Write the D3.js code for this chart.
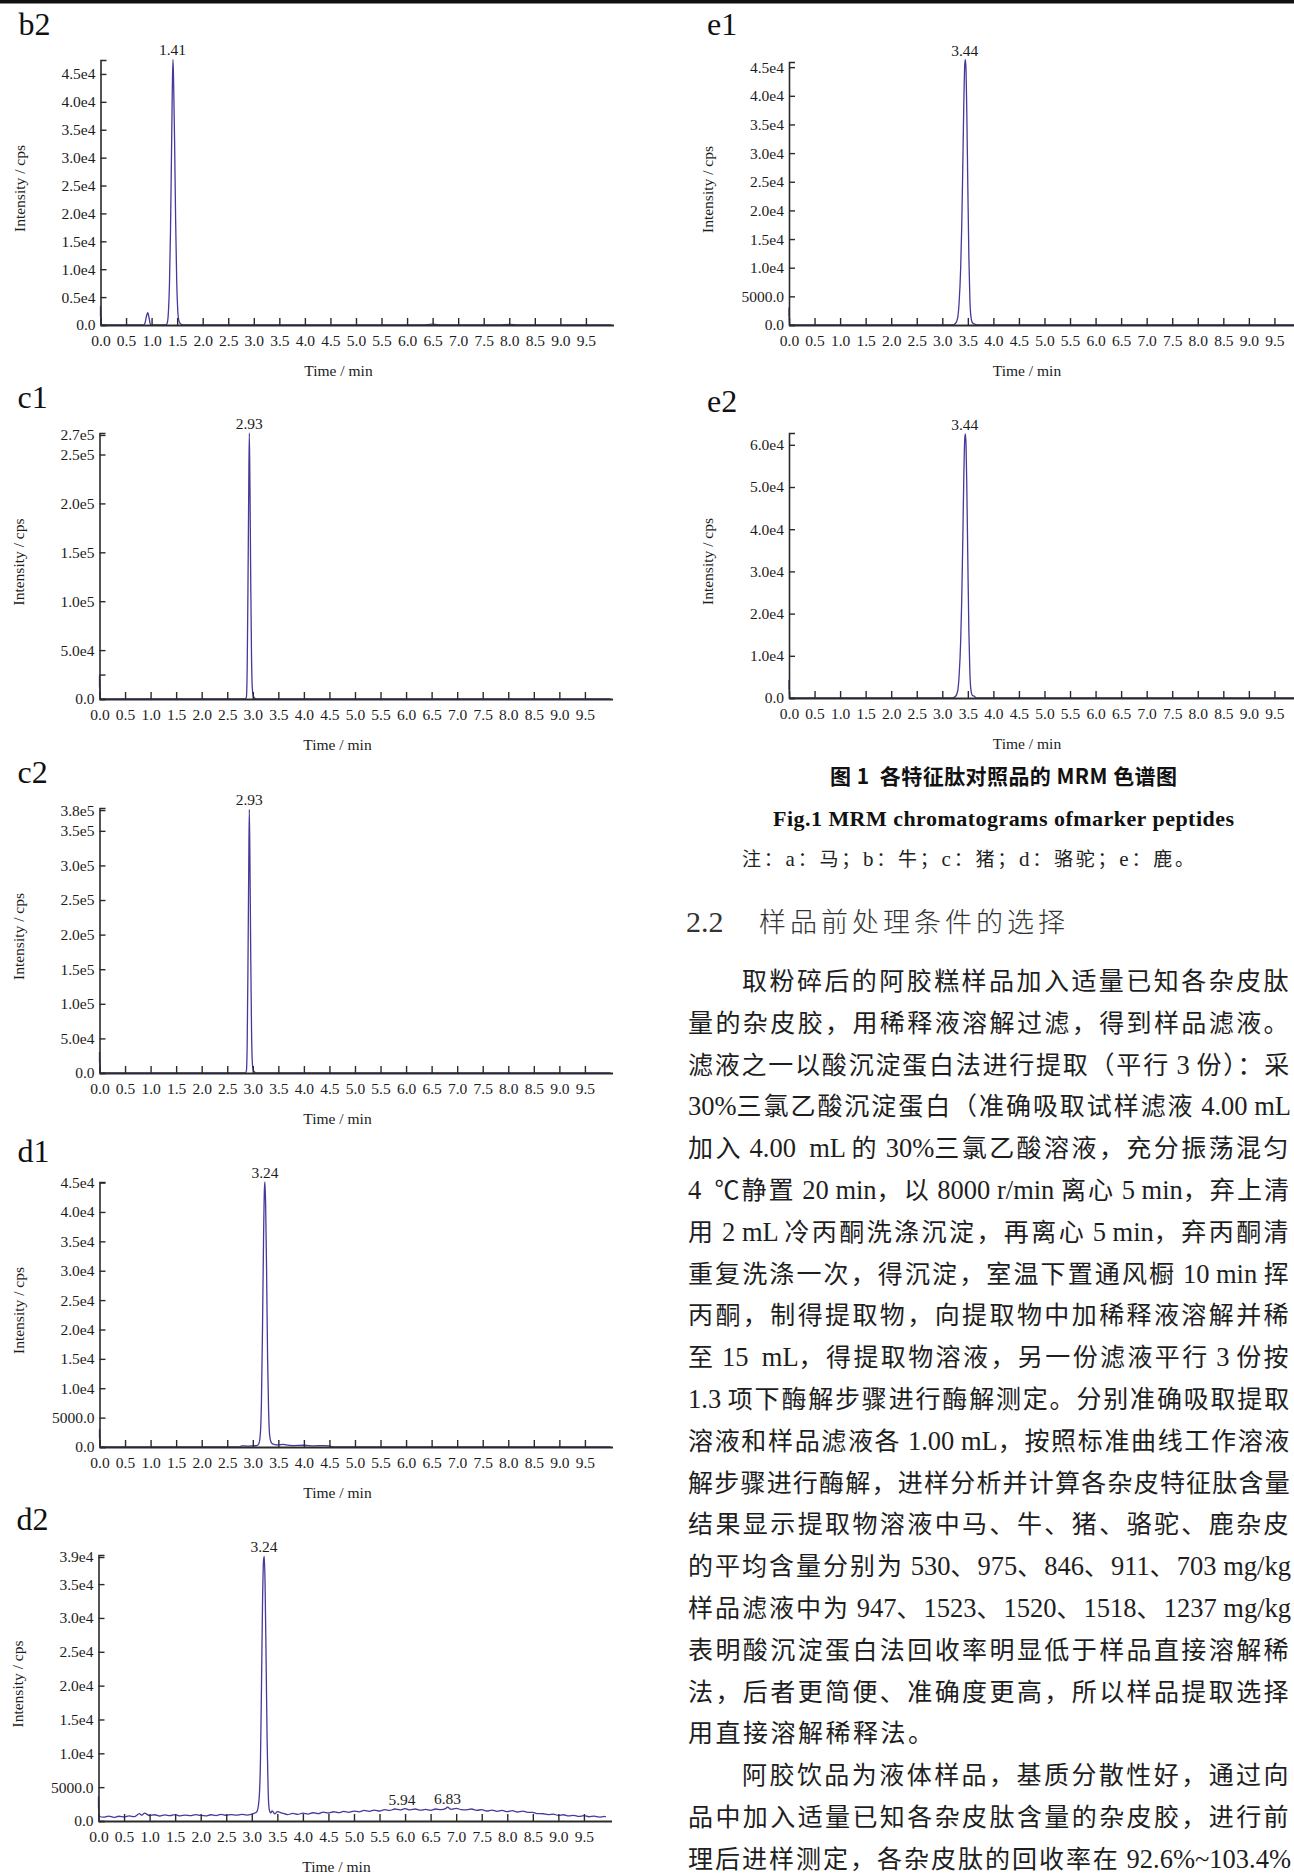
<!DOCTYPE html>
<html><head><meta charset="utf-8">
<script src="https://cdn.jsdelivr.net/npm/d3@7"></script>
<style>
body{margin:0;background:#fff;}
svg{display:block;background:#fff;}
text{white-space:pre;}
</style></head><body>
<svg id="page" width="1294" height="1874"></svg>
<script>
// ---------------- DATA ----------------
const xTicks = [0,0.5,1,1.5,2,2.5,3,3.5,4,4.5,5,5.5,6,6.5,7,7.5,8,8.5,9,9.5];
const xTickLabels = ["0.0","0.5","1.0","1.5","2.0","2.5","3.0","3.5","4.0","4.5","5.0","5.5","6.0","6.5","7.0","7.5","8.0","8.5","9.0","9.5"];

const b2YTicks = [0,5000,10000,15000,20000,25000,30000,35000,40000,45000];
const b2YLabels = ["0.0","0.5e4","1.0e4","1.5e4","2.0e4","2.5e4","3.0e4","3.5e4","4.0e4","4.5e4"];
const c1YTicks = [0,25000,50000,100000,150000,200000,250000,270000];
const c1YLabels = ["0.0","","5.0e4","1.0e5","1.5e5","2.0e5","2.5e5","2.7e5"];
const c2YTicks = [0,50000,100000,150000,200000,250000,300000,350000,380000];
const c2YLabels = ["0.0","5.0e4","1.0e5","1.5e5","2.0e5","2.5e5","3.0e5","3.5e5","3.8e5"];
const d1YTicks = [0,5000,10000,15000,20000,25000,30000,35000,40000,45000];
const d1YLabels = ["0.0","5000.0","1.0e4","1.5e4","2.0e4","2.5e4","3.0e4","3.5e4","4.0e4","4.5e4"];
const d2YTicks = [0,5000,10000,15000,20000,25000,30000,35000,39000];
const d2YLabels = ["0.0","5000.0","1.0e4","1.5e4","2.0e4","2.5e4","3.0e4","3.5e4","3.9e4"];
const e1YTicks = [0,5000,10000,15000,20000,25000,30000,35000,40000,45000];
const e1YLabels = ["0.0","5000.0","1.0e4","1.5e4","2.0e4","2.5e4","3.0e4","3.5e4","4.0e4","4.5e4"];
const e2YTicks = [0,10000,20000,30000,40000,50000,60000];
const e2YLabels = ["0.0","1.0e4","2.0e4","3.0e4","4.0e4","5.0e4","6.0e4"];

// traces: [time (min), intensity (cps)]
const b2Trace = [[0,1500],[0,3300],[0.006,1500],[0.015,0],[0.84,0],[0.87,300],[0.895,1400],[0.925,2200],[0.95,1300],[0.97,300],[0.99,0],
 [1.28,0],[1.31,500],[1.33,2500],[1.35,7500],[1.37,17000],[1.39,31000],[1.405,42000],[1.418,47600],[1.43,44000],[1.45,33000],
 [1.47,19000],[1.49,8500],[1.51,3000],[1.53,900],[1.56,250],[1.62,0],[6.3,0],[6.5,150],[6.7,0],[7.8,0],[8.0,120],[8.2,0],[10.0,0]];
const c1Trace = [[0,12000],[0,24000],[0.006,12000],[0.015,0],[2.85,0],[2.875,2000],[2.89,30000],[2.905,110000],[2.92,210000],[2.932,272000],
 [2.945,215000],[2.96,120000],[2.975,45000],[2.99,12000],[3.01,3000],[3.04,800],[3.08,0],[10.0,0]];
const c2Trace = [[0,15000],[0,30000],[0.006,15000],[0.015,0],[2.85,0],[2.875,3000],[2.89,40000],[2.905,150000],[2.92,290000],[2.932,381000],
 [2.945,300000],[2.96,170000],[2.975,65000],[2.99,17000],[3.01,4000],[3.04,1000],[3.08,0],[10.0,0]];
const d1Trace = [[0,1500],[0,3000],[0.006,1500],[0.015,0],[2.75,0],[2.78,200],[2.9,150],[3.0,200],[3.08,250],[3.12,600],[3.15,2500],[3.17,8000],
 [3.19,20000],[3.21,35000],[3.228,44000],[3.238,45100],[3.252,41000],[3.27,30000],[3.29,15000],[3.31,6000],[3.33,2000],[3.36,800],
 [3.40,500],[3.5,350],[3.6,450],[3.65,350],[3.8,250],[4.0,300],[4.2,200],[4.4,250],[4.5,200],[4.55,0],[10.0,0]];
const d2Trace = [[0,1800],[0,3600],[0.01,700],[0.1,560],[0.2,720],[0.3,540],[0.4,700],[0.5,600],[0.6,760],[0.7,640],[0.8,1080],[0.85,860],[0.9,1160],
 [1.0,800],[1.1,920],[1.2,740],[1.3,900],[1.4,780],[1.5,930],[1.6,760],[1.7,880],[1.8,790],[1.9,950],[2.0,820],[2.1,760],[2.2,920],
 [2.3,800],[2.4,980],[2.5,840],[2.6,940],[2.7,860],[2.8,980],[2.9,880],[3.0,1020],[3.05,1150],[3.1,1400],[3.14,3000],[3.17,9000],
 [3.19,20000],[3.21,32000],[3.23,38500],[3.245,39100],[3.26,35000],[3.28,24000],[3.30,12000],[3.32,4500],[3.34,1800],[3.37,1200],
 [3.4,1500],[3.45,1050],[3.5,1380],[3.6,1150],[3.7,950],[3.8,1120],[3.9,980],[4.0,1160],[4.1,1020],[4.2,1220],[4.3,1080],[4.4,1320],
 [4.5,1180],[4.6,1370],[4.7,1230],[4.8,1420],[4.9,1280],[5.0,1470],[5.1,1360],[5.2,1570],[5.3,1430],[5.4,1620],[5.5,1480],[5.6,1670],
 [5.7,1560],[5.8,1770],[5.9,1630],[6.0,1820],[6.1,1630],[6.2,1770],[6.3,1600],[6.4,1720],[6.5,1580],[6.6,1770],[6.7,1680],[6.8,1870],
 [6.83,2050],[6.9,1730],[7.0,1870],[7.1,1680],[7.2,1630],[7.3,1770],[7.4,1580],[7.5,1670],[7.6,1480],[7.7,1620],[7.8,1430],[7.9,1570],
 [8.0,1380],[8.1,1520],[8.2,1330],[8.3,1470],[8.4,1280],[8.5,1260],[8.6,1080],[8.7,1070],[8.8,930],[8.9,1020],[9.0,830],[9.1,920],
 [9.2,760],[9.3,840],[9.4,680],[9.5,780],[9.6,630],[9.7,720],[9.8,580],[9.9,670],[9.93,600]];
const e1Trace = [[0,1500],[0,3000],[0.006,1500],[0.015,0],[3.20,0],[3.26,300],[3.30,1200],[3.33,4000],[3.36,10000],[3.38,17000],[3.40,27000],
 [3.42,38000],[3.44,45500],[3.452,46300],[3.465,44500],[3.48,37000],[3.50,24000],[3.52,12000],[3.54,4500],[3.56,1500],[3.59,400],
 [3.65,100],[3.7,0],[10.0,0]];
const e2Trace = [[0,2000],[0,4200],[0.006,2000],[0.015,0],[3.20,0],[3.26,400],[3.30,1600],[3.33,5400],[3.36,13500],[3.38,23000],[3.40,36500],
 [3.42,51500],[3.44,61500],[3.452,62600],[3.465,60000],[3.48,50000],[3.50,32500],[3.52,16000],[3.54,6000],[3.56,2000],[3.59,600],
 [3.63,400],[3.66,0],[10.0,0]];

// labelled peaks: [time, intensity at apex]
const b2Peaks = [[1.41,47600]];
const c1Peaks = [[2.93,272000]];
const c2Peaks = [[2.93,381000]];
const d1Peaks = [[3.24,45100]];
const d2Peaks = [[3.24,39100],[5.94,1750],[6.83,1900]];
const e1Peaks = [[3.44,46300]];
const e2Peaks = [[3.44,62600]];

const panelNames = ["b2","c1","c2","d1","d2","e1","e2"];
const yAxisTitle = "Intensity / cps";
const xAxisTitle = "Time / min";

const captionCN = "图 1  各特征肽对照品的 MRM 色谱图";
const captionEN = "Fig.1 MRM chromatograms ofmarker peptides";
const captionNote = "注：a：马；b：牛；c：猪；d：骆驼；e：鹿。";
const headingNum = "2.2";
const headingText = "样品前处理条件的选择";
const bodyLines = [
 "取粉碎后的阿胶糕样品加入适量已知各杂皮肽",
 "量的杂皮胶，用稀释液溶解过滤，得到样品滤液。",
 "滤液之一以酸沉淀蛋白法进行提取（平行 3 份）：采",
 "30%三氯乙酸沉淀蛋白（准确吸取试样滤液 4.00 mL",
 "加入 4.00  mL 的 30%三氯乙酸溶液，充分振荡混匀",
 "4  ℃静置 20 min，以 8000 r/min 离心 5 min，弃上清",
 "用 2 mL 冷丙酮洗涤沉淀，再离心 5 min，弃丙酮清",
 "重复洗涤一次，得沉淀，室温下置通风橱 10 min 挥",
 "丙酮，制得提取物，向提取物中加稀释液溶解并稀",
 "至 15  mL，得提取物溶液，另一份滤液平行 3 份按",
 "1.3 项下酶解步骤进行酶解测定。分别准确吸取提取",
 "溶液和样品滤液各 1.00 mL，按照标准曲线工作溶液",
 "解步骤进行酶解，进样分析并计算各杂皮特征肽含量",
 "结果显示提取物溶液中马、牛、猪、骆驼、鹿杂皮",
 "的平均含量分别为 530、975、846、911、703 mg/kg",
 "样品滤液中为 947、1523、1520、1518、1237 mg/kg",
 "表明酸沉淀蛋白法回收率明显低于样品直接溶解稀",
 "法，后者更简便、准确度更高，所以样品提取选择",
 "用直接溶解稀释法。",
 "阿胶饮品为液体样品，基质分散性好，通过向",
 "品中加入适量已知各杂皮肽含量的杂皮胶，进行前",
 "理后进样测定，各杂皮肽的回收率在 92.6%~103.4%"
];
const indentedLines = [0, 19];
const shortLines = [18];

// ---------------- LAYOUT ----------------
const LINE = "#45399a", AX = "#2b2b2b", TXT = "#1c1c1c";
const SERIF = "'Liberation Serif','Times New Roman',serif";
const CJK = "'Noto Sans CJK SC','Noto Sans CJK JP',sans-serif";
const XW = 513, XMAX = 10.04;

const panels = [
 {name:panelNames[0], trace:b2Trace, peaks:b2Peaks, yT:b2YTicks, yL:b2YLabels, yMax:47500, x0:100.5, yB:325, yTop:60, lblY:35},
 {name:panelNames[1], trace:c1Trace, peaks:c1Peaks, yT:c1YTicks, yL:c1YLabels, yMax:272000, x0:99.5, yB:699, yTop:433, lblY:408},
 {name:panelNames[2], trace:c2Trace, peaks:c2Peaks, yT:c2YTicks, yL:c2YLabels, yMax:383000, x0:99.5, yB:1073, yTop:808, lblY:783},
 {name:panelNames[3], trace:d1Trace, peaks:d1Peaks, yT:d1YTicks, yL:d1YLabels, yMax:45100, x0:99.5, yB:1447, yTop:1182, lblY:1162},
 {name:panelNames[4], trace:d2Trace, peaks:d2Peaks, yT:d2YTicks, yL:d2YLabels, yMax:39300, x0:98.5, yB:1821, yTop:1555, lblY:1530},
 {name:panelNames[5], trace:e1Trace, peaks:e1Peaks, yT:e1YTicks, yL:e1YLabels, yMax:45900, x0:789, yB:325, yTop:62, lblY:35},
 {name:panelNames[6], trace:e2Trace, peaks:e2Peaks, yT:e2YTicks, yL:e2YLabels, yMax:62800, x0:789, yB:698, yTop:433, lblY:412}
];

const svg = d3.select("#page");
svg.append("rect").attr("x",0).attr("y",0).attr("width",1294).attr("height",1874).attr("fill","#fff");
// top rule of the page
svg.append("rect").attr("x",0).attr("y",0).attr("width",1294).attr("height",3.5).attr("fill","#111");

panels.forEach(p => {
  const g = svg.append("g");
  const x = d3.scaleLinear().domain([0, XMAX]).range([p.x0, p.x0 + XW]);
  const y = d3.scaleLinear().domain([0, p.yMax]).range([p.yB, p.yTop]);

  // trace
  g.append("path").datum(p.trace)
    .attr("d", d3.line().x(d => x(d[0])).y(d => y(d[1])).curve(d3.curveMonotoneX))
    .attr("fill","none").attr("stroke",LINE).attr("stroke-width",1.3).attr("stroke-linejoin","round");

  // y axis
  const ya = g.append("g").attr("transform",`translate(${p.x0},0)`)
    .call(d3.axisLeft(y).tickValues(p.yT).tickFormat((d,i)=>p.yL[i]).tickSizeInner(-6).tickSizeOuter(-6).tickPadding(5));
  ya.select(".domain").attr("stroke",AX).attr("stroke-width",1.6);
  ya.selectAll(".tick line").attr("stroke",AX).attr("stroke-width",1.4);
  ya.selectAll(".tick text").attr("font-family",SERIF).attr("font-size",15.5).attr("fill",TXT);

  // x axis
  const xa = g.append("g").attr("transform",`translate(0,${p.yB})`)
    .call(d3.axisBottom(x).tickValues(xTicks).tickFormat((d,i)=>xTickLabels[i]).tickSizeInner(-7).tickSizeOuter(0).tickPadding(10));
  xa.select(".domain").attr("stroke",AX).attr("stroke-width",2);
  xa.selectAll(".tick line").attr("stroke",AX).attr("stroke-width",1.4);
  xa.selectAll(".tick text").attr("font-family",SERIF).attr("font-size",15.5).attr("fill",TXT);

  // peak labels
  g.selectAll("text.peak").data(p.peaks).join("text").attr("class","peak")
    .attr("x", d => x(d[0])).attr("y", d => y(d[1]) - 4)
    .attr("text-anchor","middle").attr("font-family",SERIF).attr("font-size",15.5).attr("fill",TXT)
    .text(d => d[0].toFixed(2));

  // panel letter
  g.append("text").attr("x", p.x0 - 82).attr("y", p.lblY)
    .attr("font-family",SERIF).attr("font-size",32).attr("fill","#111").text(p.name);

  // axis titles
  g.append("text").attr("x", p.x0 + 238).attr("y", p.yB + 51)
    .attr("text-anchor","middle").attr("font-family",SERIF).attr("font-size",15.5).attr("fill",TXT).text(xAxisTitle);
  const cy = (p.yB + p.yTop)/2 - 4;
  g.append("text").attr("transform",`translate(${p.x0 - 76},${cy}) rotate(-90)`)
    .attr("text-anchor","middle").attr("font-family",SERIF).attr("font-size",15.5).attr("fill",TXT).text(yAxisTitle);
});

// ---------- caption & body text ----------
const isLatin = r => /^[\x20-\x7E]+$/.test(r);
function addRuns(sel, str, cjkSize, latinSize, cjkLS) {
  const runs = str.match(/[\x20-\x7E]+|[^\x20-\x7E]+/g) || [];
  runs.forEach(r => {
    const t = sel.append("tspan").text(r).attr("data-latin", isLatin(r) ? 1 : 0);
    if (isLatin(r)) t.attr("font-family",SERIF).attr("font-size",latinSize).style("letter-spacing","0px");
    else t.attr("font-family",CJK).attr("font-size",cjkSize).style("letter-spacing",cjkLS+"px");
  });
}
// spread CJK characters so a line ends at the given right edge
function justify(t, x0, right, baseLS) {
  const cj = t.selectAll("tspan").filter(function(){ return this.getAttribute("data-latin") === "0"; });
  let n = 0; cj.each(function(){ n += Array.from(this.textContent).length; });
  if (!n) return;
  let ls = baseLS;
  for (let k = 0; k < 3; k++) {
    const bb = t.node().getBBox();
    const end = bb.x + bb.width;
    ls += (right - end) / n;
    cj.style("letter-spacing", ls + "px");
  }
}

svg.append("text").attr("x",830).attr("y",784).attr("textLength",347).attr("lengthAdjust","spacing")
  .attr("font-family",CJK).attr("font-weight",700).attr("font-size",21).attr("fill","#111").text(captionCN);
svg.append("text").attr("x",773).attr("y",826).attr("textLength",461).attr("lengthAdjust","spacing")
  .attr("font-family",SERIF).attr("font-weight",700).attr("font-size",22).attr("fill","#111").text(captionEN);
const note = svg.append("text").attr("x",742).attr("y",866).attr("fill","#222");
addRuns(note, captionNote, 19, 21, 0);
note.attr("textLength",452).attr("lengthAdjust","spacing");

svg.append("text").attr("x",686).attr("y",932).attr("font-family",SERIF).attr("font-size",30).attr("fill","#333").text(headingNum);
svg.append("text").attr("x",759).attr("y",932).attr("textLength",306).attr("lengthAdjust","spacing")
  .attr("font-family",CJK).attr("font-weight",300).attr("font-size",27).attr("fill","#333").text(headingText);

bodyLines.forEach((s,i) => {
  const x0 = indentedLines.includes(i) ? 742 : 688;
  const t = svg.append("text").attr("x", x0).attr("y", 990 + i*41.8).attr("fill","#1e1e1e");
  addRuns(t, s, 25, 26.5, 2.5);
  if (!shortLines.includes(i)) justify(t, x0, 1291, 2.5);
});
</script>
</body></html>
